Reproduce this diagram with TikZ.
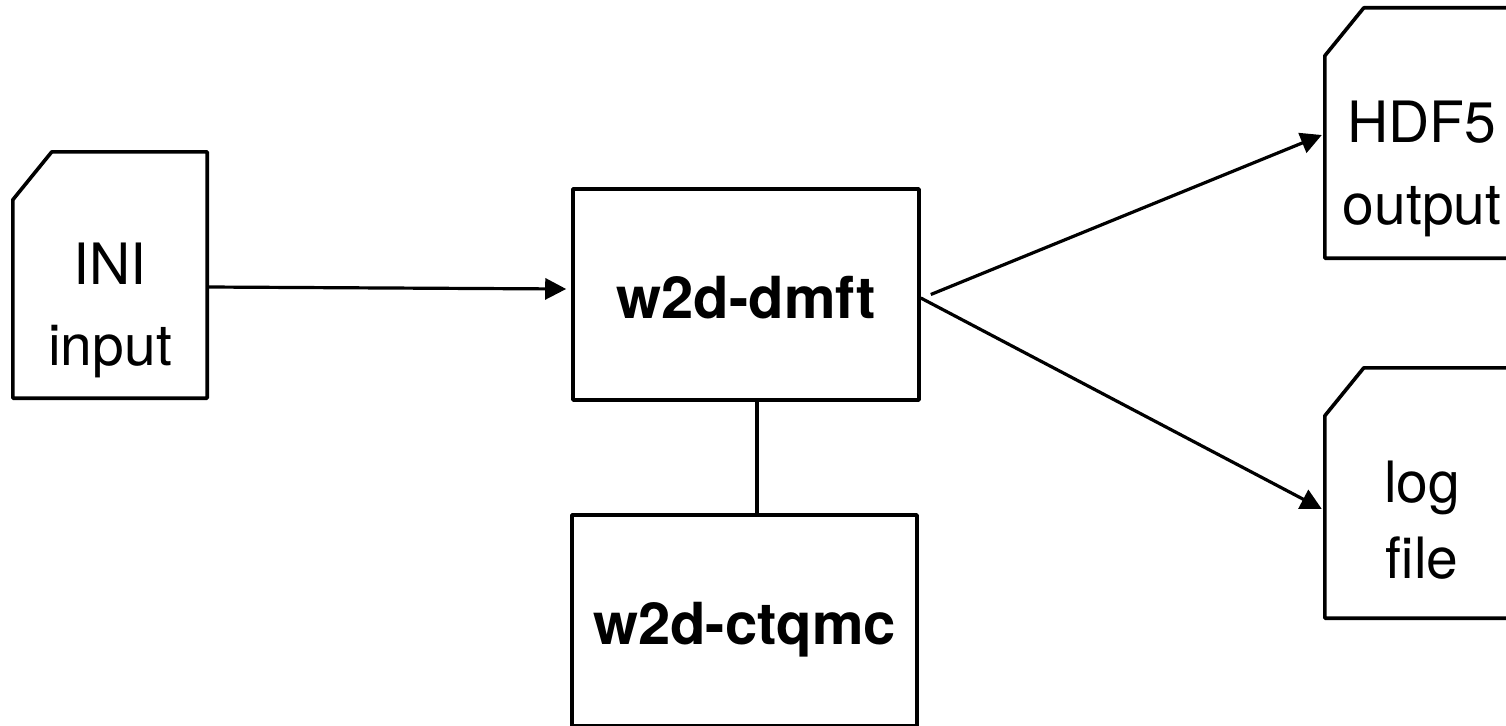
\documentclass[tikz,border=0pt]{standalone}
\usepackage{fontspec}
\setmainfont{TeX Gyre Heros}
\usetikzlibrary{arrows.meta}

% outline of a data-file symbol: a rectangle with its top-left corner cut off
\newcommand\fileoutline[1]{%
  \draw[boxline] (#1.south west) -- ([yshift=-48pt]#1.north west)
    -- ([xshift=39pt]#1.north west) -- (#1.north east) -- (#1.south east) -- cycle;}

\begin{document}
\begin{tikzpicture}[x=1pt,y=-1pt,
  boxline/.style={line width=3.6pt, line join=round},
  procbox/.style={boxline, draw, inner sep=0pt, minimum height=211pt,
    font=\fontsize{58}{70}\selectfont\bfseries, text height=48pt, text depth=0pt},
  filebox/.style={minimum width=194pt, inner sep=0pt},
  filetext/.style={anchor=base, inner sep=0pt, font=\fontsize{57}{70}\selectfont},
  flow/.style={line width=3.2pt, -{Triangle[length=21pt,width=21pt]}},
  link/.style={line width=3.2pt}]

\fill[white] (0,0) rectangle (1506,725);
\clip (0,0) rectangle (1506,725);

% program boxes
\node[procbox, minimum width=346pt] (dmft)  at (746,294.5)  {w2d-dmft};
\node[procbox, minimum width=345pt] (ctqmc) at (744.5,620.5) {w2d-ctqmc};

% file symbols
\node[filebox, minimum height=246pt] (ini) at (110,275) {};
\node[filebox, minimum height=250pt] (hdf) at (1422,133) {};
\node[filebox, minimum height=250pt] (log) at (1422,493) {};
\fileoutline{ini}
\fileoutline{hdf}
\fileoutline{log}

\node[filetext] (ini-a) at ([yshift=-9pt]ini.center)  {INI};
\node[filetext] (ini-b) at ([yshift=-90pt]ini.center) {input};
\node[filetext] (hdf-a) at ([yshift=-9pt]hdf.center)  {HDF5};
\node[filetext] (hdf-b) at ([yshift=-91pt]hdf.center) {output};
\node[filetext] (log-a) at ([yshift=-9pt]log.center)  {log};
\node[filetext] (log-b) at ([yshift=-85pt]log.center) {file};

% data flow
\draw[flow] ([yshift=-12pt]ini.east) -- ([xshift=-5pt,yshift=5.5pt]dmft.west);
\draw[flow] ([xshift=10pt]dmft.east) -- ([xshift=-3pt,yshift=-2pt]hdf.west);
\draw[flow] ([yshift=-3.5pt]dmft.east) -- ([xshift=-3pt,yshift=-16pt]log.west);
\draw[link] ([xshift=11pt]dmft.south) -- ([xshift=12.5pt]ctqmc.north);
\end{tikzpicture}
\end{document}
